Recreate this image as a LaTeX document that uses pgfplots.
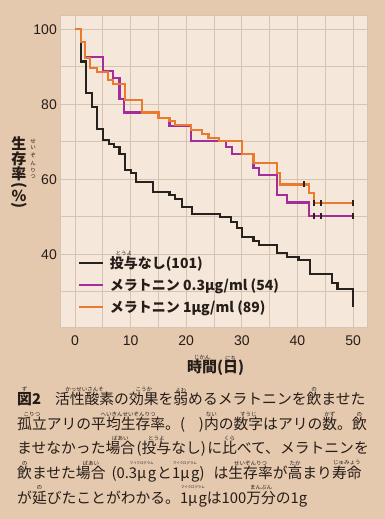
\documentclass[border=0pt]{standalone}
\usepackage{fontspec}
\setmainfont{Noto Sans CJK JP}
\newfontfamily\tickfont{Liberation Sans}
\usepackage{pgfplots}
\pgfplotsset{compat=1.18}
\definecolor{bgtan}{RGB}{228,201,174}
\definecolor{plotbg}{RGB}{245,232,219}
\definecolor{gridc}{RGB}{214,196,178}
\definecolor{txt}{RGB}{38,28,24}
\definecolor{cblack}{RGB}{40,34,30}
\definecolor{cpurple}{RGB}{165,45,155}
\definecolor{corange}{RGB}{234,122,45}
\newcommand\rubyf{\normalfont\fontsize{5.5}{5.5}\selectfont}
\newcommand\rubyk{\normalfont\fontsize{3.4}{3.4}\selectfont}
\newcommand\rb[2]{\leavevmode\setbox0\hbox{#1}\setbox2\hbox to\wd0{\hss\rubyf #2\hss}\vbox{\offinterlineskip\box2\kern0.6pt\box0}}
\newcommand\rk[2]{\leavevmode\setbox0\hbox{#1\vphantom{漢}}\setbox2\hbox to\wd0{\hss\rubyk #2\hss}\vbox{\offinterlineskip\box2\kern1.5pt\box0}}
\begin{document}
\begin{tikzpicture}
\useasboundingbox (0pt,0pt) rectangle (385pt,519pt);
\fill[bgtan] (0pt,0pt) rectangle (385pt,519pt);
\begin{axis}[
  at={(60pt,192pt)}, anchor=south west, scale only axis,
  width=307pt, height=312pt,
  xmin=-2.7, xmax=52.5, ymin=20.6, ymax=103.8,
  xtick={0,10,...,50}, minor xtick={5,15,...,45},
  ytick={40,60,80,100}, minor ytick={30,50,70,90},
  grid=both,
  major grid style={gridc, line width=0.8pt},
  minor grid style={gridc, line width=0.8pt},
  axis background/.style={fill=plotbg},
  axis line style={gridc, line width=0.8pt},
  major tick length=0pt, minor tick length=0pt,
  /pgf/number format/assume math mode=true,
  ticklabel style={font=\tickfont\fontsize{14}{14}\selectfont, text=txt, inner sep=0pt},
  yticklabel style={anchor=east, xshift=-3pt},
  xticklabel style={anchor=north, yshift=-9pt},
  legend cell align=left,
  legend style={at={(rel axis cs:0.0586,0.2276)}, anchor=north west, draw=none, fill=none,
    inner sep=0pt, row sep=8pt, column sep=6pt,
    font=\bfseries\fontsize{14}{14}\selectfont, text=txt,
    nodes={inner sep=0pt, text height=12pt, text depth=2pt}},
  legend image code/.code={\draw[#1, line width=1.7pt] (0pt,0pt) -- (24pt,0pt);},
]
\addplot[const plot, draw=cblack, line width=2.2pt] coordinates {
(0,100)(1.1,91.4)(2.0,83.1)(3.0,79.2)(4.0,73.4)(5.0,70.4)(6.1,69.5)(7.0,68.7)(8.0,66.7)(9.0,62.5)(10.0,61.7)(11.0,59.3)(14.0,56.5)(17.0,55.8)(18.0,54.8)(19.2,52.7)(21.1,50.7)(26.1,49.9)(28.0,48.7)(29.1,46.9)(30.0,44.7)(32.1,43.6)(33.1,42.5)(36.3,40.3)(38.1,39.2)(40.2,38.5)(42.2,34.7)(46.2,32.4)(47.2,30.7)(50,30.7)(50,26.7)};
\addlegendentry{\rb{投与}{とうよ}なし(101)}
\addplot[const plot, draw=cpurple, line width=2.2pt] coordinates {
(0,100)(1.1,96.5)(1.8,92.7)(5.0,88.9)(6.9,87.1)(8.0,81.3)(8.8,77.8)(15.0,76.4)(17.0,74.2)(20.9,70.3)(27.2,68.7)(28.2,66.7)(32.1,62.9)(33.1,61.1)(36.3,55.8)(38.1,53.8)(42.1,50.2)(50,50.2)};
\addlegendentry{メラトニン 0.3µg/ml (54)}
\addplot[const plot, draw=corange, line width=2.2pt] coordinates {
(0,100)(1.1,96.5)(1.8,92.3)(2.7,89.6)(3.9,88.7)(6.0,86.5)(6.9,85.4)(9.0,81.2)(12.1,77.8)(15.0,76.4)(17.0,75.5)(18.0,74.5)(20.9,73.1)(22.9,72.0)(24.0,70.9)(25.9,70.2)(30.0,66.7)(32.1,64.3)(36.3,61.7)(36.9,58.6)(42.1,56.3)(43.0,53.6)(50,53.6)};
\addlegendentry{メラトニン 1µg/ml (89)}
\addplot[only marks, mark=|, mark size=3pt, draw=cblack, mark options={line width=1.4pt}, forget plot] coordinates {
(41.2,58.6)(43.0,53.6)(44.2,53.6)(50,53.6)(43.0,50.2)(44.2,50.2)(50,50.2)(50,26.7)};
\end{axis}
% y label (vertical)
\begin{scope}[every node/.style={inner sep=0pt, text=txt, font=\bfseries\fontsize{15}{15}\selectfont}]
\node at (19pt,375pt) {生};
\node at (19pt,360pt) {存};
\node at (19pt,345.5pt) {率};
\node[rotate=-90] at (19pt,333pt) {(};
\node at (19pt,323.5pt) {\%};
\node[rotate=-90] at (19pt,313pt) {)};
\end{scope}
\begin{scope}[every node/.style={inner sep=0pt, text=txt, font=\rubyf}]
\node at (33pt,378pt) {せ};
\node at (33pt,371pt) {い};
\node at (33pt,363pt) {ぞ};
\node at (33pt,356pt) {ん};
\node at (33pt,349pt) {り};
\node at (33pt,342pt) {つ};
\end{scope}
% x label
\node[anchor=base west, inner sep=0pt, text=txt, font=\bfseries\fontsize{15}{15}\selectfont] at (187pt,146pt) {\rb{時間}{じかん}(\rb{日}{にち})};
% caption
\begin{scope}[every node/.style={anchor=base west, inner sep=0pt, text=txt, font=\fontsize{14.8}{16}\selectfont}]
\node at (17pt,114pt) {{\bfseries\rb{図}{ず}2}\hspace{14pt}\rb{活性酸素}{かっせいさんそ}の\rb{効果}{こうか}を\rb{弱}{よわ}めるメラトニンを\rb{飲}{の}ませた};
\node at (17pt,89.5pt) {\rb{孤立}{こりつ}アリの\rb{平均生存率}{へいきんせいぞんりつ}。(\hspace{14pt})\rb{内}{ない}の\rb{数字}{すうじ}はアリの\rb{数}{かず}。\rb{飲}{の}};
\node at (17pt,65pt) {ませなかった\rb{場合}{ばあい}\hspace{1.5pt}(\rb{投与}{とうよ}なし)\hspace{1.5pt}に\rb{比}{くら}べて、メラトニンを};
\node at (17pt,40.5pt) {\rb{飲}{の}ませた\rb{場合}{ばあい}\hspace{6pt}(0.3\rk{μ}{マイクログラム}\hspace{1.5pt}g\hspace{1pt}と1\rk{μ}{マイクログラム}\hspace{1.5pt}g)\hspace{9pt}は\rb{生存率}{せいぞんりつ}が\rb{高}{たか}まり\rb{寿命}{じゅみょう}};
\node at (17pt,16pt) {が\rb{延}{の}びたことがわかる。1\rk{μ}{マイクログラム}\hspace{1pt}gは100\rb{万分}{まんぶん}の1g};
\end{scope}
\end{tikzpicture}
\end{document}
